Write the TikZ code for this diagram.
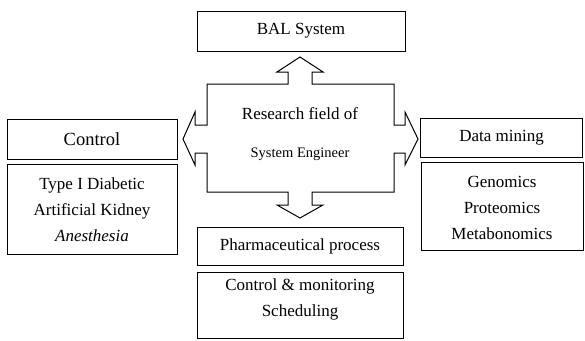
\documentclass[tikz,border=0pt]{standalone}
\usepackage{fontspec}
\setmainfont{Liberation Serif}
\begin{document}
\begin{tikzpicture}[x=1pt,y=-1pt,
  rbox/.style={draw, line width=1pt, inner sep=0pt, align=center, font=\fontsize{17}{26}\selectfont},
  txt/.style={inner sep=0pt, align=center, font=\fontsize{17}{26}\selectfont},
  hub/.style={draw, line width=1pt, line join=miter}]
\useasboundingbox (0,0) rectangle (585,340);
% central research field shape with four arrows
\draw[hub] (207,84) -- (288,84) -- (288,72) -- (277,72) -- (300,57) -- (323,72) -- (312,72) -- (312,84)
  -- (394,84) -- (394,125) -- (405,125) -- (405,112) -- (418,139) -- (405,165) -- (405,153) -- (394,153)
  -- (394,192) -- (312,192) -- (312,205) -- (323,205) -- (300,218) -- (277,205) -- (288,205) -- (288,192)
  -- (207,192) -- (207,153) -- (195,153) -- (195,165) -- (183,139) -- (195,112) -- (195,125) -- (207,125) -- cycle;
\node[txt, anchor=base] (res1) at (300,119) {Research field of};
\node[txt, anchor=base, font=\fontsize{14.5}{18}\selectfont] (res2) at (300,157) {System Engineer};
% boxes
\node[rbox, minimum width=208pt, minimum height=40pt] (bal) at (301,31) {BAL System};
\node[rbox, minimum width=170pt, minimum height=40pt, font=\fontsize{18.5}{26}\selectfont] (ctrl) at (92,139) {Control};
\node[rbox, minimum width=170pt, minimum height=90pt] (ctrlapps) at (92,209) {};
\node[txt] (ctrltext) at (92,210) {Type I Diabetic\\Artificial Kidney\\\textit{Anesthesia}};
\node[rbox, minimum width=162pt, minimum height=39pt] (dm) at (501.5,137.5) {Data mining};
\node[rbox, minimum width=162pt, minimum height=88pt] (dmapps) at (502,206) {};
\node[txt] (dmtext) at (502,208) {Genomics\\Proteomics\\Metabonomics};
\node[rbox, minimum width=206pt, minimum height=38pt] (ph) at (300,246) {Pharmaceutical process};
\node[rbox, minimum width=206pt, minimum height=66pt] (phapps) at (300,305) {};
\node[txt] (phtext) at (300,299) {Control \& monitoring\\Scheduling};
\end{tikzpicture}
\end{document}
